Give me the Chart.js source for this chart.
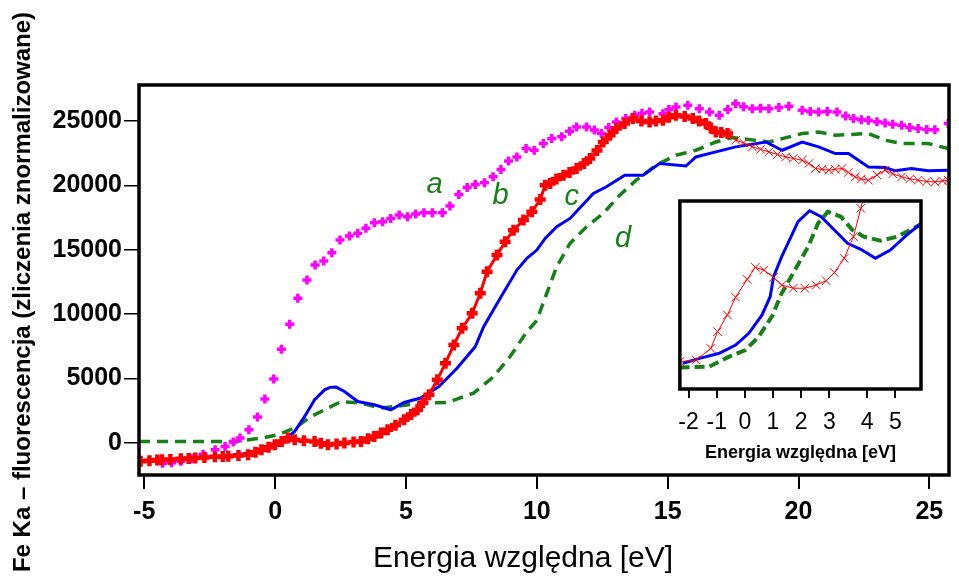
<!DOCTYPE html>
<html lang="pl">
<head>
<meta charset="utf-8">
<title>Fe Ka fluorescencja</title>
<script src="https://cdn.jsdelivr.net/npm/chart.js@4.4.1/dist/chart.umd.min.js"></script>
<style>
  body { margin: 0; background: #fff; }
  #wrap { position: relative; width: 959px; height: 581px; }
  #mainChart { position: absolute; left: 0; top: 0; }
  #insetChart { position: absolute; left: 667px; top: 191px; }
</style>
</head>
<body>
<div id="wrap">
  <canvas id="mainChart" width="959" height="581"></canvas>
  <canvas id="insetChart" width="264" height="285"></canvas>
</div>
<script>
// ---- data (energy [eV], counts) ----
const seriesA = [
  [-4.3, -1600], [-3.95, -1550], [-3.6, -1450], [-3.2, -1250], [-2.75, -900], [-2.29, -540],
  [-1.91, -290], [-1.6, 50], [-1.34, 360], [-1.0, 1000], [-0.67, 1990], [-0.39, 3390],
  [-0.05, 4960], [0.24, 7270], [0.56, 9210], [0.87, 11230], [1.22, 12650], [1.53, 13810],
  [1.86, 14120], [2.17, 14760], [2.48, 15750], [2.84, 16060], [3.16, 16270], [3.47, 16660],
  [3.79, 17090], [4.11, 17170], [4.42, 17430], [4.74, 17690], [5.06, 17560], [5.37, 17770],
  [5.69, 17870], [6.01, 17870], [6.39, 17870], [6.68, 18390], [7.02, 19290], [7.34, 19840],
  [7.65, 20070], [8.0, 20200], [8.33, 20660], [8.63, 21230], [8.92, 21900], [9.24, 22210],
  [9.59, 22860], [9.9, 22730], [10.25, 23250], [10.57, 23640], [10.95, 23770], [11.25, 24200],
  [11.52, 24540], [11.9, 24540], [12.2, 24300], [12.47, 24030], [12.75, 24500], [13.04, 24930],
  [13.4, 25200], [13.74, 25450], [14.02, 25600], [14.31, 25700], [14.82, 25570], [15.05, 25900],
  [15.32, 26090], [15.77, 26220], [16.21, 25960], [16.6, 25700], [16.97, 25450], [17.3, 25900],
  [17.6, 26350], [17.9, 26100], [18.24, 25960], [18.55, 26000], [18.87, 25960], [19.25, 26050],
  [19.63, 26140], [20.14, 25830], [20.45, 25750], [20.77, 25700], [21.1, 25750], [21.47, 25700],
  [21.8, 25400], [22.1, 25190], [22.4, 25100], [22.67, 25060], [23.0, 24950], [23.31, 24850],
  [23.6, 24750], [23.94, 24670], [24.25, 24500], [24.57, 24410], [24.9, 24350], [25.21, 24330],
  [25.72, 24800]
];
const seriesBThick = [
  [-5.14, -1450], [-4.8, -1400], [-4.5, -1350], [-4.32, -1320], [-4.0, -1300], [-3.6, -1250],
  [-3.3, -1220], [-3.05, -1190], [-2.7, -1150], [-2.3, -1100], [-2.0, -1080], [-1.79, -1060],
  [-1.4, -1000], [-1.03, -930], [-0.75, -750], [-0.52, -540], [-0.25, -350], [-0.01, -160],
  [0.25, 100], [0.49, 360], [0.75, 230], [1.1, 150], [1.51, 100], [1.75, -50], [2.02, -160],
  [2.35, -100], [2.65, -20], [3.0, 50], [3.28, 100], [3.55, 300], [3.79, 490], [4.05, 750],
  [4.3, 1010], [4.6, 1350], [4.93, 1780], [5.2, 2200], [5.44, 2560], [5.65, 3100], [5.88, 3720],
  [6.2, 4890], [6.51, 6180], [6.83, 7600], [7.15, 8900], [7.53, 10060], [7.84, 11610],
  [8.1, 13290], [8.48, 14580], [8.79, 15620], [9.11, 16520], [9.49, 17300], [9.81, 17940],
  [10.13, 18900], [10.32, 20010], [10.51, 20150], [10.75, 20500], [11.02, 20790], [11.25, 21000],
  [11.52, 21310], [11.8, 21700], [12.03, 22080], [12.3, 22700], [12.54, 23370], [12.8, 23900],
  [13.04, 24410], [13.35, 24800], [13.68, 25190], [14.0, 25000], [14.31, 24930], [14.55, 25000],
  [14.82, 25060], [15.05, 25300], [15.32, 25450], [15.65, 25350], [15.96, 25190], [16.2, 25000],
  [16.46, 24800], [16.65, 24450], [16.84, 24150], [17.05, 24100], [17.29, 24030]
];
const seriesBThin = [
  [17.29, 24030], [17.6, 23510], [17.9, 23300], [18.24, 22990], [18.55, 22800], [18.87, 22600],
  [19.2, 22400], [19.51, 22210], [19.8, 22100], [20.14, 21950], [20.4, 21700], [20.65, 21310],
  [20.9, 21250], [21.16, 21180], [21.4, 21250], [21.66, 21310], [21.9, 21000], [22.17, 20660],
  [22.4, 20500], [22.67, 20400], [23.0, 20800], [23.31, 21180], [23.6, 20900], [23.94, 20660],
  [24.25, 20500], [24.57, 20400], [24.9, 20300], [25.21, 20270], [25.5, 20350], [25.72, 20400]
];
const seriesC = [
  [-5.2, -1400], [-4.0, -1300], [-3.0, -1200], [-2.0, -1050], [-1.2, -850], [-0.5, -500],
  [0.0, -200], [0.4, 300], [0.75, 880], [1.13, 2040], [1.51, 3340], [1.89, 4110], [2.1, 4300],
  [2.33, 4320], [2.65, 3980], [3.16, 3200], [3.79, 2950], [4.42, 2560], [4.93, 3130],
  [5.56, 3470], [6.26, 4370], [6.96, 5800], [7.65, 7470], [7.97, 9020], [8.6, 11230],
  [9.24, 13420], [9.62, 14330], [10.0, 14970], [10.32, 15880], [10.76, 16780], [11.27, 17430],
  [12.16, 19370], [12.66, 19890], [13.36, 20790], [14.06, 20790], [14.69, 21700], [15.7, 21500],
  [16.08, 22210], [16.84, 22600], [17.6, 22990], [18.75, 23370], [19.38, 22730], [20.14, 23370],
  [20.77, 22990], [21.41, 22470], [21.91, 22470], [22.67, 21430], [23.31, 21390], [23.69, 21130],
  [24.32, 21310], [24.95, 21130], [25.72, 21180]
];
const seriesD = [
  [-5.2, 100], [-3.05, 100], [-1.53, 100], [-0.52, 360], [0.11, 620], [0.75, 1140], [1.38, 2040],
  [2.02, 2690], [2.52, 3200], [3.28, 3080], [4.04, 2690], [4.8, 2870], [5.56, 3080], [6.58, 3130],
  [7.59, 3860], [8.35, 5140], [8.98, 6700], [9.62, 8630], [10.0, 9500], [10.38, 11610],
  [10.76, 13680], [11.27, 15490], [11.9, 16780], [12.54, 17820], [13.17, 19240], [13.8, 20400],
  [14.56, 21570], [15.32, 22340], [16.08, 22730], [16.84, 23370], [17.48, 23720], [18.87, 23370],
  [20.14, 24030], [20.77, 24150], [21.41, 23890], [22.67, 24030], [23.31, 23510], [23.94, 23250],
  [24.95, 23250], [25.72, 22860]
];

const xTicks = [-5, 0, 5, 10, 15, 20, 25];
const yTicks = [0, 5000, 10000, 15000, 20000, 25000];

// curve letters and where they sit (data coords)
const curveLetters = ["a", "b", "c", "d"];
const curveLetterX = [6.09, 8.62, 11.34, 13.3];
const curveLetterY = [20010, 19150, 19100, 15870];

// ---- inset (energy [eV], arbitrary units 0-100) ----
const insetC = [
  [-2.2, 13.7], [-1.61, 16.3], [-0.91, 19.0], [-0.33, 23.4], [0.14, 29.6], [0.61, 39.4],
  [0.9, 49.1], [1.02, 59.7], [1.31, 70.4], [1.89, 89.0], [2.3, 94.8], [2.71, 91.6],
  [3.18, 84.6], [3.65, 77.5], [4.12, 74.3], [4.64, 69.5], [5.17, 73.9], [5.75, 81.9], [6.34, 89.0]
];
const insetD = [
  [-2.32, 11.5], [-1.26, 11.9], [-0.56, 17.2], [0.02, 20.7], [0.49, 27.8], [0.96, 38.5],
  [1.31, 50.9], [1.78, 63.3], [2.25, 75.7], [2.6, 88.1], [2.95, 94.3], [3.42, 91.6],
  [3.82, 84.6], [4.23, 81.0], [4.82, 78.9], [5.4, 81.0], [5.99, 85.5], [6.34, 88.1]
];
const insetB = [
  [-2.32, 14.5], [-1.73, 15.4], [-1.21, 21.6], [-0.97, 30.5], [-0.62, 39.4], [-0.33, 48.8],
  [0.08, 58.3], [0.37, 64.7], [0.67, 63.3], [1.02, 59.4], [1.31, 55.3], [1.72, 53.6],
  [2.13, 53.6], [2.54, 55.3], [2.89, 57.6], [3.18, 61.9], [3.53, 69.5], [3.86, 81.0],
  [4.12, 96.1], [4.33, 108]
];
// the inset axis is not evenly spaced after 3
const insetTickValues = [-2, -1, 0, 1, 2, 3, 4.35, 5.35];
const insetTickLabels = ["-2", "-1", "0", "1", "2", "3", "4", "5"];

const colMagenta = "#ff00ff";
const colRed = "#ff0000";
const colBlue = "#0000ff";
const colGreen = "#178017";
const FONT = "'Liberation Sans', Arial, sans-serif";

const toXY = (arr) => arr.map((p) => ({ x: p[0], y: p[1] }));

// frame round the plot area + white fill for inset
const framePlugin = {
  id: "frame",
  beforeDatasetsDraw(chart, args, opts) {
    if (!opts.fill) return;
    const a = chart.chartArea;
    chart.ctx.save();
    chart.ctx.fillStyle = "#fff";
    chart.ctx.fillRect(a.left, a.top, a.right - a.left, a.bottom - a.top);
    chart.ctx.restore();
  },
  afterDatasetsDraw(chart) {
    const a = chart.chartArea;
    const ctx = chart.ctx;
    ctx.save();
    ctx.strokeStyle = "#000";
    ctx.lineWidth = 3.5;
    ctx.strokeRect(a.left, a.top, a.right - a.left, a.bottom - a.top);
    ctx.restore();
  },
};

// axis titles and curve letters of the main chart
const textPlugin = {
  id: "texts",
  afterDraw(chart) {
    const ctx = chart.ctx;
    const xs = chart.scales.x;
    const ys = chart.scales.y;
    ctx.save();
    ctx.fillStyle = "#000";
    ctx.textAlign = "center";
    ctx.textBaseline = "alphabetic";
    ctx.font = "30px " + FONT;
    ctx.fillText("Energia względna [eV]", 523, 567);

    ctx.save();
    ctx.translate(30, 292);
    ctx.rotate(-Math.PI / 2);
    ctx.font = "bold 24px " + FONT;
    ctx.fillText("Fe Ka – fluorescencja (zliczenia znormalizowane)", 0, 0);
    ctx.restore();

    ctx.fillStyle = colGreen;
    ctx.font = "italic 29px " + FONT;
    ctx.textBaseline = "middle";
    curveLetters.forEach((t, i) => {
      ctx.fillText(t, xs.getPixelForValue(curveLetterX[i]), ys.getPixelForValue(curveLetterY[i]));
    });
    ctx.restore();
  },
};

Chart.defaults.font.family = FONT;
Chart.defaults.color = "#000";

// 1. main chart
new Chart(document.getElementById("mainChart"), {
  type: "scatter",
  data: {
    datasets: [
      {
        label: "b",
        data: toXY(seriesBThick),
        showLine: true,
        borderColor: colRed,
        backgroundColor: colRed,
        borderWidth: 3,
        pointStyle: "cross",
        pointRadius: 5.5,
        pointBorderWidth: 4.5,
      },
      {
        label: "a",
        data: toXY(seriesA),
        showLine: false,
        borderColor: colMagenta,
        backgroundColor: colMagenta,
        pointStyle: "cross",
        pointRadius: 4.5,
        pointBorderWidth: 3.5,
      },
      {
        label: "b2",
        data: toXY(seriesBThin),
        showLine: true,
        borderColor: colRed,
        backgroundColor: colRed,
        borderWidth: 1,
        pointStyle: "crossRot",
        pointRadius: 6,
        pointBorderWidth: 1,
      },
      {
        label: "c",
        data: toXY(seriesC),
        showLine: true,
        borderColor: colBlue,
        borderWidth: 3,
        pointRadius: 0,
      },
      {
        label: "d",
        data: toXY(seriesD),
        showLine: true,
        borderColor: colGreen,
        borderWidth: 3.5,
        borderDash: [11, 7],
        pointRadius: 0,
      },
    ],
  },
  options: {
    responsive: false,
    animation: false,
    devicePixelRatio: 1,
    layout: { padding: { left: 0, top: 85, right: 4, bottom: 0 } },
    plugins: { legend: { display: false }, tooltip: { enabled: false }, frame: { fill: false } },
    scales: {
      x: {
        type: "linear",
        min: -5.2,
        max: 25.75,
        afterBuildTicks: (s) => { s.ticks = xTicks.map((v) => ({ value: v })); },
        afterFit: (s) => { s.height = 106; },
        grid: { drawOnChartArea: false, color: "#000", lineWidth: 2, tickLength: 14 },
        border: { display: false },
        ticks: { font: { size: 25, weight: "bold" }, padding: 8, maxRotation: 0, autoSkip: false },
      },
      y: {
        type: "linear",
        min: -2510,
        max: 27800,
        afterBuildTicks: (s) => { s.ticks = yTicks.map((v) => ({ value: v })); },
        afterFit: (s) => { s.width = 139; },
        grid: { drawOnChartArea: false, color: "#000", lineWidth: 1.5, tickLength: 15 },
        border: { display: false },
        ticks: { font: { size: 25, weight: "bold" }, padding: 2, callback: (v) => String(v) },
      },
    },
  },
  plugins: [framePlugin, textPlugin],
});

// 2. inset chart
new Chart(document.getElementById("insetChart"), {
  type: "scatter",
  data: {
    datasets: [
      {
        label: "b",
        data: toXY(insetB),
        showLine: true,
        borderColor: colRed,
        backgroundColor: colRed,
        borderWidth: 1,
        pointStyle: "crossRot",
        pointRadius: 6,
        pointBorderWidth: 1,
      },
      {
        label: "c",
        data: toXY(insetC),
        showLine: true,
        borderColor: colBlue,
        borderWidth: 3,
        pointRadius: 0,
      },
      {
        label: "d",
        data: toXY(insetD),
        showLine: true,
        borderColor: colGreen,
        borderWidth: 4,
        borderDash: [10, 5],
        pointRadius: 0,
      },
    ],
  },
  options: {
    responsive: false,
    animation: false,
    devicePixelRatio: 1,
    layout: { padding: { left: 10, top: 10, right: 10, bottom: 0 } },
    plugins: { legend: { display: false }, tooltip: { enabled: false }, frame: { fill: true } },
    scales: {
      x: {
        type: "linear",
        min: -2.31,
        max: 6.26,
        afterBuildTicks: (s) => { s.ticks = insetTickValues.map((v) => ({ value: v })); },
        afterFit: (s) => { s.height = 87; },
        grid: { drawOnChartArea: false, color: "#000", lineWidth: 2, tickLength: 9 },
        border: { display: false },
        ticks: {
          font: { size: 23 },
          padding: 11,
          maxRotation: 0,
          autoSkip: false,
          callback: (v) => insetTickLabels[insetTickValues.indexOf(v)],
        },
        title: {
          display: true,
          text: "Energia względna [eV]",
          font: { size: 18, weight: "bold" },
          padding: { top: 0, bottom: 12 },
        },
      },
      y: { display: false, min: 0, max: 100 },
    },
  },
  plugins: [framePlugin],
});
</script>
</body>
</html>
